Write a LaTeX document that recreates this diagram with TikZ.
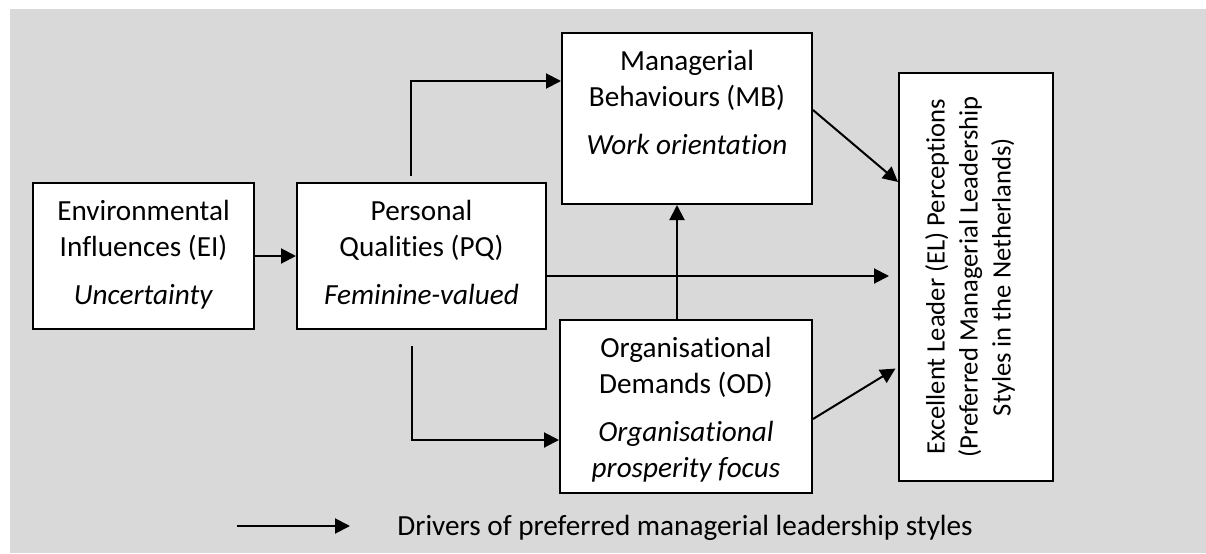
\documentclass[tikz,border=0pt]{standalone}
\usepackage{fontspec}
\setmainfont{Carlito}[Ligatures={NoCommon}]
\usetikzlibrary{arrows.meta}
\definecolor{bggray}{HTML}{D9D9D9}

\begin{document}
\begin{tikzpicture}[x=0.5pt, y=-0.5pt,
    font=\fontsize{14.6}{18}\selectfont,
    box/.style={draw, line width=1pt, fill=white, inner sep=0pt},
    boxtext/.style={anchor=north, align=center, inner sep=0pt, yshift=-9pt},
    driver/.style={-{Triangle[length=7.5pt, width=7.5pt]}, line width=1pt}]

    \useasboundingbox (0,0) rectangle (1206,553);
    \fill[bggray] (10,9) rectangle (1206,553);

    \node [box, minimum width=110.5pt, minimum height=73pt] (EI) at (143.5,256) {};
    \node [box, minimum width=124.5pt, minimum height=73pt] (PQ) at (421.5,256) {};
    \node [box, minimum width=125pt, minimum height=85.5pt] (MB) at (687,118.5) {};
    \node [box, minimum width=126pt, minimum height=86.5pt] (OD) at (686,406.5) {};
    \node [box, minimum width=77pt, minimum height=204pt] (EL) at (976,277) {};

    \node [boxtext] (EI-t) at (EI.north) {Environmental\\Influences (EI)\\[6pt]\textit{Uncertainty}};
    \node [boxtext] (PQ-t) at (PQ.north) {Personal\\Qualities (PQ)\\[6pt]\textit{Feminine-valued}};
    \node [boxtext] (MB-t) at (MB.north) {Managerial\\Behaviours (MB)\\[6pt]\textit{Work orientation}};
    \node [boxtext] (OD-t) at (OD.north) {Organisational\\Demands (OD)\\[6pt]\textit{Organisational}\\\textit{prosperity focus}};
    \node [rotate=90, align=center, inner sep=0pt, font=\fontsize{13.3}{16.5}\selectfont] (EL-t) at ([xshift=-3pt]EL.center) {Excellent Leader (EL) Perceptions\\(Preferred Managerial Leadership\\Styles in the Netherlands)};

    \coordinate (pq-up) at (411,176);
    \coordinate (pq-down) at (412,346);

    \draw[driver] (EI.east) -- (PQ.west);
    \draw[driver] (pq-up) |- ([yshift=18.75pt]MB.west);
    \draw[driver] (pq-down) |- ([yshift=-16.75pt]OD.west);
    \draw[driver] ([xshift=-4.5pt]OD.north) -- ([xshift=-4.5pt]OD.north |- MB.south);
    \draw[driver, shorten >=4.5pt] ([yshift=-10pt]PQ.east) -- ([yshift=-10pt]PQ.east -| EL.west);
    \draw[driver] ([yshift=4.25pt]MB.east) -- ([yshift=47.5pt]EL.west);
    \draw[driver, shorten >=1.5pt] ([yshift=-6.25pt]OD.east) -- ([yshift=-45pt]EL.west);

    \coordinate (key-a) at (237,526);
    \coordinate (key-b) at (350,526);
    \draw[driver] (key-a) -- (key-b);
    \node [anchor=base west, inner sep=0pt] (key-t) at (397,535) {Drivers of preferred managerial leadership styles};

\end{tikzpicture}
\end{document}
